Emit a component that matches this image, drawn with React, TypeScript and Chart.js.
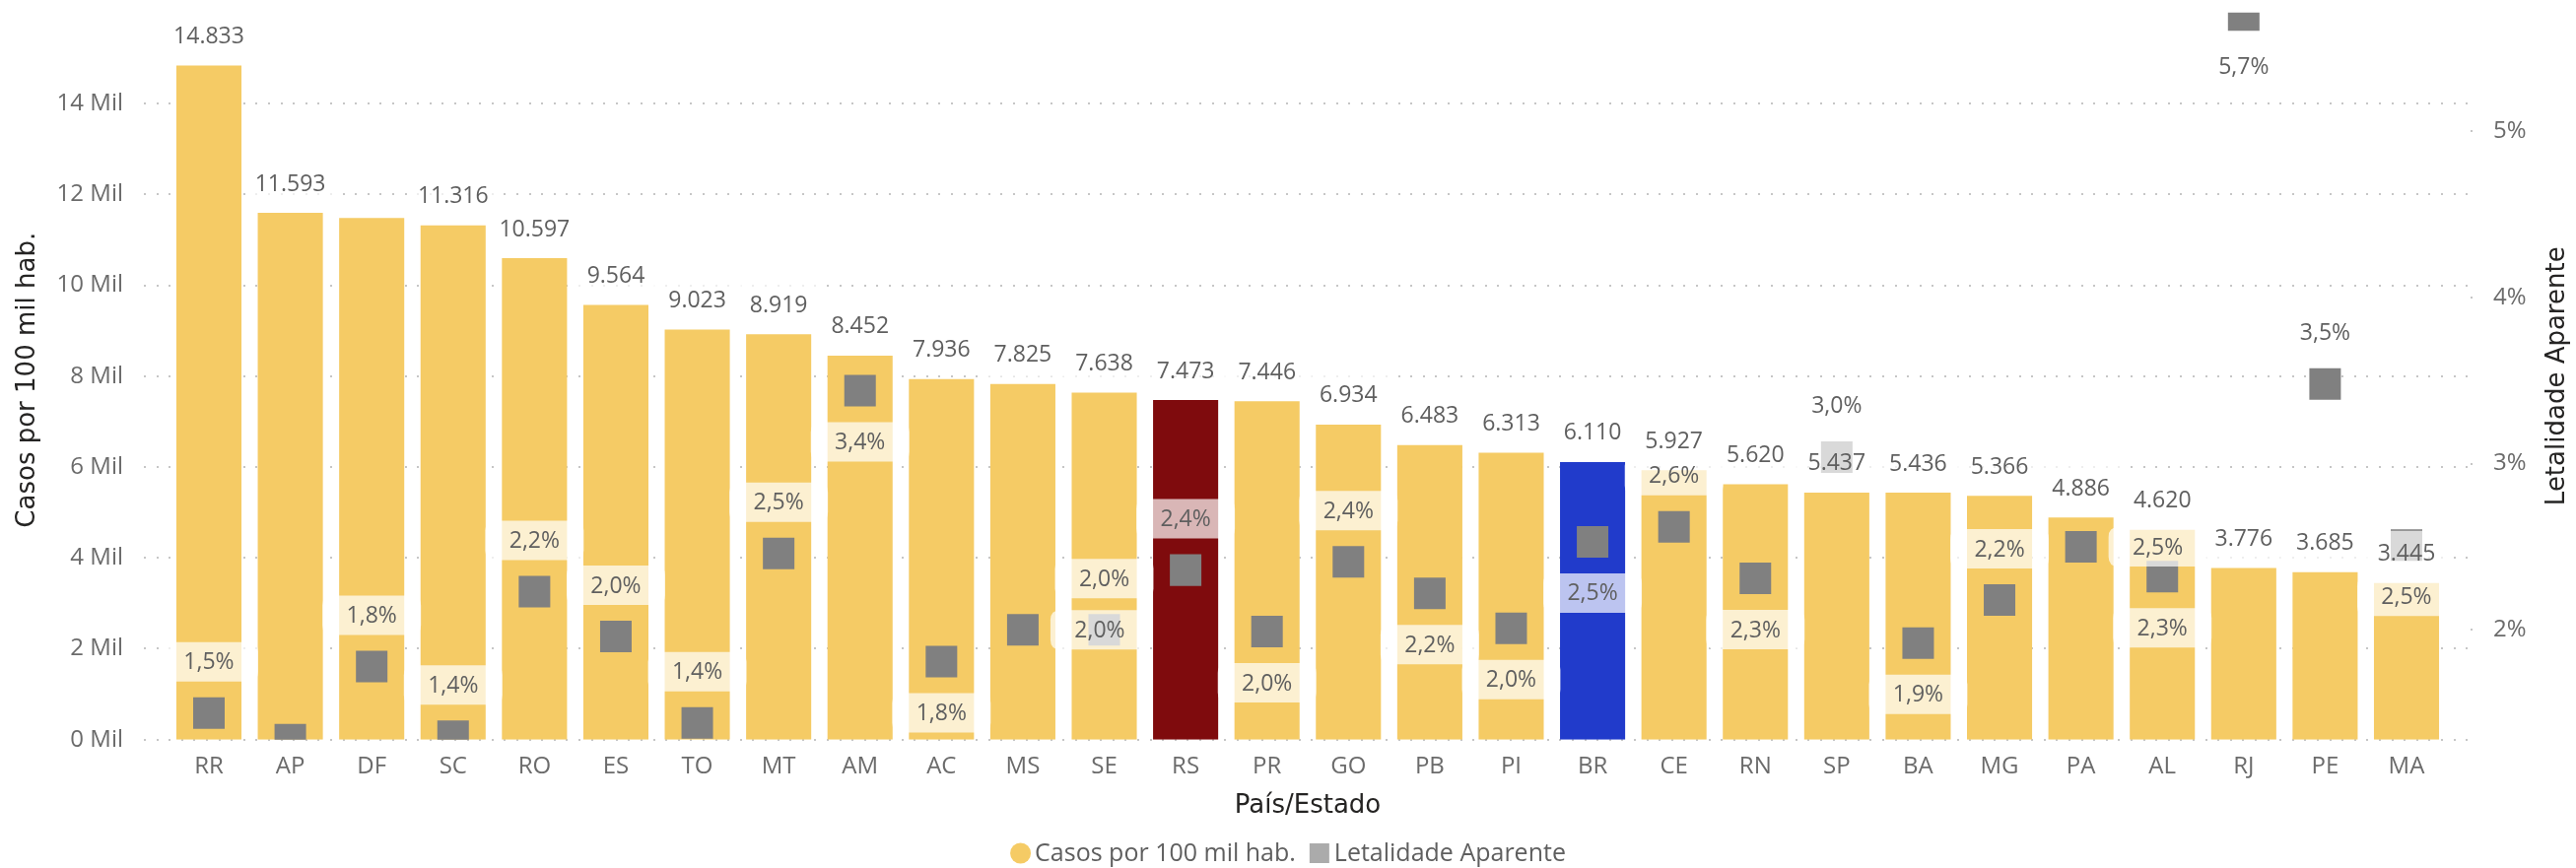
import React, { useEffect, useRef } from "react";
import { Chart, registerables } from "chart.js";

Chart.register(...registerables);

// ---------- data ----------
const categories = [
  "RR", "AP", "DF", "SC", "RO", "ES", "TO", "MT", "AM", "AC", "MS", "SE", "RS", "PR",
  "GO", "PB", "PI", "BR", "CE", "RN", "SP", "BA", "MG", "PA", "AL", "RJ", "PE", "MA",
];
const casosPor100Mil = [
  14833, 11593, 11480, 11316, 10597, 9564, 9023, 8919, 8452, 7936, 7825, 7638, 7473, 7446,
  6934, 6483, 6313, 6110, 5927, 5620, 5437, 5436, 5366, 4886, 4620, 3776, 3685, 3445,
];
const letalidadePct = [
  1.5, 1.34, 1.78, 1.36, 2.23, 1.96, 1.44, 2.46, 3.44, 1.81, 2.0, 2.0, 2.36, 1.99,
  2.41, 2.22, 2.01, 2.53, 2.62, 2.31, 3.04, 1.92, 2.18, 2.5, 2.32, 5.7, 3.48, 2.51,
];
const leftTickValues = [0, 2000, 4000, 6000, 8000, 10000, 12000, 14000];
const rightTickValues = [2, 3, 4, 5];
const hiddenBarLabels = ["DF"];
// where the Letalidade label sits relative to its marker
const pctLabelPlacement = [
  "above", "none", "above", "above", "above", "above", "above", "above", "below", "below",
  "right", "above", "above", "below", "above", "below", "below", "below", "above", "below",
  "above", "below", "above", "right", "below", "below", "above", "below",
];
const highlightColors: Record<string, string> = { RS: "#7F0B0D", BR: "#213BCB" };

const BAR_COLOR = "#F5CB65";
const POINT_COLOR = "#808080";
const FONT = "'Segoe UI', 'Open Sans', sans-serif";
const TITLE_FONT = "'DejaVu Sans', 'Open Sans', sans-serif";
const LABEL_COLOR = "#5f5f5f";
const TICK_COLOR = "#6b6b6b";
const TITLE_COLOR = "#252423";

const fmtThousands = (n: number) => String(n).replace(/\B(?=(\d{3})+(?!\d))/g, ".");
const fmtPct = (v: number) => v.toFixed(1).replace(".", ",") + "%";

function roundRect(ctx: CanvasRenderingContext2D, x: number, y: number, w: number, h: number, r: number) {
  ctx.beginPath();
  ctx.moveTo(x + r, y);
  ctx.lineTo(x + w - r, y);
  ctx.quadraticCurveTo(x + w, y, x + w, y + r);
  ctx.lineTo(x + w, y + h - r);
  ctx.quadraticCurveTo(x + w, y + h, x + w - r, y + h);
  ctx.lineTo(x + r, y + h);
  ctx.quadraticCurveTo(x, y + h, x, y + h - r);
  ctx.lineTo(x, y + r);
  ctx.quadraticCurveTo(x, y, x + r, y);
  ctx.closePath();
}

const gridPlugin = {
  id: "dottedGrid",
  beforeDatasetsDraw(chart: any) {
    const { ctx, chartArea } = chart;
    const yS = chart.scales.y;
    const y1 = chart.scales.y1;
    const x0 = chartArea.left - 23.7;
    const x1 = chartArea.right + 22.7;
    ctx.save();
    ctx.fillStyle = "#c6c6c6";
    for (const v of leftTickValues) {
      const py = Math.round(yS.getPixelForValue(v));
      for (let x = x0; x <= x1; x += 12.6) ctx.fillRect(Math.round(x) - 1, py - 1, 2, 2);
    }
    for (const v of rightTickValues) {
      const py = Math.round(y1.getPixelForValue(v));
      ctx.fillRect(Math.round(x1) + 1, py - 1, 2, 2);
    }
    ctx.restore();
  },
};

const labelsPlugin = {
  id: "valueLabels",
  afterDatasetsDraw(chart: any) {
    const { ctx } = chart;
    const barMeta = chart.getDatasetMeta(1);
    const ptMeta = chart.getDatasetMeta(0);
    ctx.save();
    ctx.font = `23px ${FONT}`;
    ctx.textAlign = "center";
    ctx.textBaseline = "middle";
    // bar value labels
    barMeta.data.forEach((el: any, i: number) => {
      if (hiddenBarLabels.includes(categories[i])) return;
      const cy = el.y - 30;
      ctx.fillStyle = "rgba(255,255,255,0.7)";
      roundRect(ctx, el.x - 45, cy - 23, 90, 46, 8);
      ctx.fill();
      ctx.fillStyle = LABEL_COLOR;
      ctx.fillText(fmtThousands(casosPor100Mil[i]), el.x, cy + 1);
    });
    // letalidade labels
    ptMeta.data.forEach((el: any, i: number) => {
      const p = pctLabelPlacement[i];
      if (p === "none") return;
      let cx = el.x;
      let cy = el.y;
      if (p === "above") cy = el.y - 52;
      else if (p === "below") cy = el.y + 52;
      else if (p === "right") cx = el.x + 29 + 49;
      ctx.fillStyle = "rgba(255,255,255,0.7)";
      roundRect(ctx, cx - 50, cy - 20, 100, 40, 10);
      ctx.fill();
      ctx.fillStyle = LABEL_COLOR;
      ctx.fillText(fmtPct(letalidadePct[i]), cx, cy + 1);
    });
    ctx.restore();
  },
};

const titlesPlugin = {
  id: "titlesLegend",
  afterDraw(chart: any) {
    const { ctx, chartArea, width } = chart;
    ctx.save();
    ctx.fillStyle = TITLE_COLOR;
    ctx.textAlign = "center";
    ctx.textBaseline = "middle";
    ctx.font = `26px ${TITLE_FONT}`;
    const midY = (chartArea.top + chartArea.bottom) / 2;
    // x title
    ctx.fillText("País/Estado", (chartArea.left + chartArea.right) / 2, 818);
    // left title
    ctx.save();
    ctx.translate(28, midY + 4);
    ctx.rotate(-Math.PI / 2);
    ctx.fillText("Casos por 100 mil hab.", 0, 0);
    ctx.restore();
    // right title
    ctx.save();
    ctx.translate(2595, midY);
    ctx.rotate(-Math.PI / 2);
    ctx.fillText("Letalidade Aparente", 0, 0);
    ctx.restore();

    // legend
    ctx.font = `25px ${FONT}`;
    ctx.textAlign = "left";
    const t1 = "Casos por 100 mil hab.";
    const t2 = "Letalidade Aparente";
    const w1 = ctx.measureText(t1).width;
    const w2 = ctx.measureText(t2).width;
    const total = 21 + 4 + w1 + 14 + 20 + 5 + w2;
    let x = width / 2 - total / 2;
    const ly = 866;
    ctx.fillStyle = BAR_COLOR;
    ctx.beginPath();
    ctx.arc(x + 10.5, ly, 10.5, 0, Math.PI * 2);
    ctx.fill();
    x += 25;
    ctx.fillStyle = LABEL_COLOR;
    ctx.fillText(t1, x, ly + 1);
    x += w1 + 14;
    ctx.fillStyle = "#ababab";
    ctx.fillRect(x, ly - 10, 20, 20);
    x += 25;
    ctx.fillStyle = LABEL_COLOR;
    ctx.fillText(t2, x, ly + 1);
    ctx.restore();
  },
};

const fitVertical = (w: number) => (s: any) => {
  s.width = w;
  s.paddingTop = 0;
  s.paddingBottom = 0;
};

export default function App() {
  const canvasRef = useRef<HTMLCanvasElement | null>(null);

  useEffect(() => {
    document.body.style.margin = "0";
    const canvas = canvasRef.current;
    if (!canvas) return;
    Chart.defaults.font.family = FONT;

    const barColors = categories.map((c) => highlightColors[c] || BAR_COLOR);

    const chart = new Chart(canvas, {
      type: "bar",
      data: {
        labels: categories,
        datasets: [
          {
            type: "line",
            label: "Letalidade Aparente",
            data: letalidadePct,
            yAxisID: "y1",
            showLine: false,
            pointStyle: "rect",
            pointRadius: 22.63,
            pointHoverRadius: 22.63,
            pointBackgroundColor: POINT_COLOR,
            pointBorderWidth: 0,
            borderColor: POINT_COLOR,
            backgroundColor: POINT_COLOR,
            clip: 0,
            order: 0,
          } as any,
          {
            type: "bar",
            label: "Casos por 100 mil hab.",
            data: casosPor100Mil,
            yAxisID: "y",
            backgroundColor: barColors,
            barPercentage: 0.8,
            categoryPercentage: 1,
            order: 1,
          } as any,
        ],
      },
      options: {
        responsive: false,
        animation: false,
        devicePixelRatio: 1,
        layout: { autoPadding: false, padding: { top: 12.8, left: 0, right: 0, bottom: 0 } },
        plugins: {
          legend: { display: false },
          tooltip: { enabled: false },
          title: { display: false },
        },
        scales: {
          x: {
            type: "category",
            offset: true,
            grid: { display: false, drawTicks: false },
            border: { display: false },
            ticks: {
              color: TICK_COLOR,
              font: { size: 24 },
              padding: 13,
              maxRotation: 0,
              autoSkip: false,
            },
            afterFit: (s: any) => {
              s.height = 130.3;
              s.paddingLeft = 0;
              s.paddingRight = 0;
            },
          },
          y: {
            position: "left",
            min: 0,
            max: 16000,
            grid: { display: false, drawTicks: false },
            border: { display: false },
            afterBuildTicks: (s: any) => {
              s.ticks = leftTickValues.map((v) => ({ value: v }));
            },
            ticks: {
              color: TICK_COLOR,
              font: { size: 24 },
              padding: 45.7,
              callback: (v: any) => `${Number(v) / 1000} Mil`,
            },
            afterFit: fitVertical(170.7),
          },
          y1: {
            position: "right",
            min: 1.34,
            max: 5.714,
            grid: { display: false, drawTicks: false },
            border: { display: false },
            afterBuildTicks: (s: any) => {
              s.ticks = rightTickValues.map((v) => ({ value: v }));
            },
            ticks: {
              color: TICK_COLOR,
              font: { size: 24 },
              padding: 46.7,
              callback: (v: any) => `${v}%`,
            },
            afterFit: fitVertical(130.7),
          },
        },
      } as any,
      plugins: [gridPlugin, labelsPlugin, titlesPlugin],
    });

    return () => chart.destroy();
  }, []);

  return (
    <div style={{ width: 2614, height: 881 }}>
      <canvas ref={canvasRef} width={2614} height={881} style={{ display: "block" }} />
    </div>
  );
}
